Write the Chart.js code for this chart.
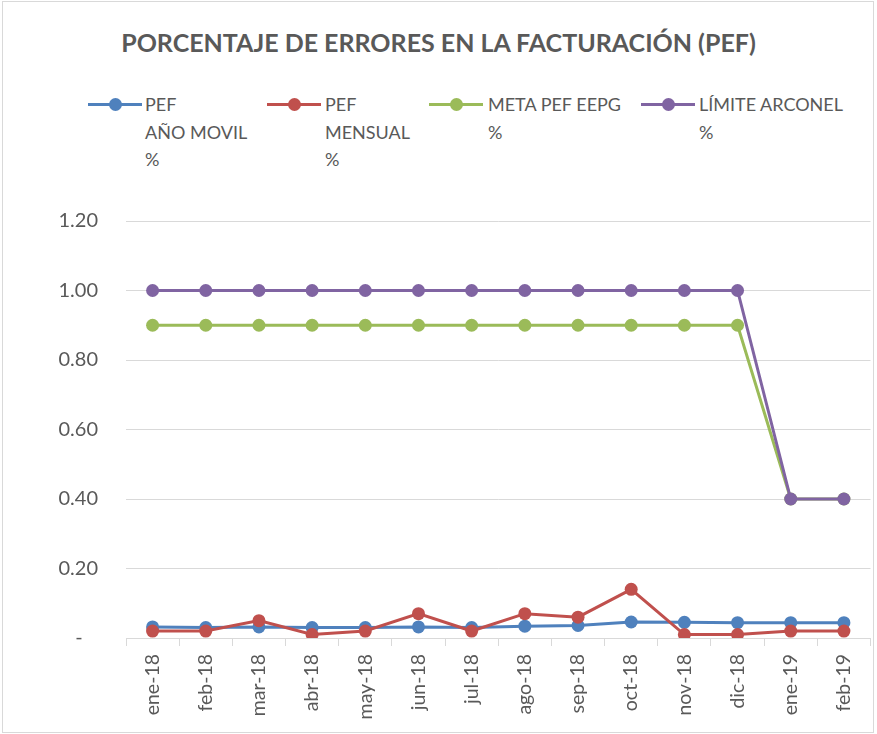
<!DOCTYPE html>
<html>
<head>
<meta charset="utf-8">
<script src="https://cdn.jsdelivr.net/npm/chart.js@4"></script>
<style>
  body { margin: 0; background: #fff; }
  #wrap { position: relative; width: 877px; height: 734px; }
  #frame { position: absolute; left: 2px; top: 1px; width: 870px; height: 730px; border: 1px solid #d9d9d9; }
  #title { position: absolute; left: 0; width: 877px; top: 27px; text-align: center;
           font: bold 25px Lato, sans-serif; color: #595959; }
  .lg { position: absolute; top: 91px; font: 18px Lato, sans-serif; color: #595959; line-height: 27.5px; }
  .lg .mk { position: absolute; left: 0; top: 12px; height: 3px; }
  .lg .dot { position: absolute; top: -5px; width: 13px; height: 13px; border-radius: 50%; }
  .lg .tx { position: absolute; white-space: nowrap; }
  canvas { position: absolute; left: 0; top: 0; }
</style>
</head>
<body>
<div id="wrap">
  <div id="frame"></div>
  <div id="title">PORCENTAJE DE ERRORES EN LA FACTURACIÓN (PEF)</div>
  <div id="legend"></div>
  <canvas id="teh_canvas" width="877" height="734"></canvas>
</div>
<script>
var months = ['ene-18','feb-18','mar-18','abr-18','may-18','jun-18','jul-18','ago-18','sep-18','oct-18','nov-18','dic-18','ene-19','feb-19'];

var pefAnoMovil = [0.032,0.030,0.032,0.030,0.030,0.032,0.030,0.034,0.036,0.046,0.045,0.044,0.044,0.044];
var pefMensual  = [0.020,0.020,0.050,0.010,0.020,0.070,0.020,0.070,0.060,0.140,0.010,0.010,0.020,0.020];
var metaPef     = [0.90,0.90,0.90,0.90,0.90,0.90,0.90,0.90,0.90,0.90,0.90,0.90,0.40,0.40];
var limiteArc   = [1.00,1.00,1.00,1.00,1.00,1.00,1.00,1.00,1.00,1.00,1.00,1.00,0.40,0.40];

var seriesNames = [['PEF','AÑO MOVIL','%'], ['PEF','MENSUAL','%'], ['META PEF EEPG','%'], ['LÍMITE ARCONEL','%']];
var chartColors = ['#4f81bd','#c0504d','#9bbb59','#8064a2'];

// legend positions (line start, line width, text start)
var legendPos = [[88,54,145],[267,54,325],[429,54,488],[641,54,699]];

function buildLegend() {
    var lg = document.getElementById('legend');
    seriesNames.forEach(function(lines, i) {
        var p = legendPos[i];
        var item = document.createElement('div');
        item.className = 'lg';
        item.style.left = p[0] + 'px';
        var mk = document.createElement('div');
        mk.className = 'mk';
        mk.style.width = p[1] + 'px';
        mk.style.background = chartColors[i];
        var dot = document.createElement('div');
        dot.className = 'dot';
        dot.style.left = (p[1] / 2 - 6.5) + 'px';
        dot.style.background = chartColors[i];
        mk.appendChild(dot);
        var tx = document.createElement('div');
        tx.className = 'tx';
        tx.style.left = (p[2] - p[0]) + 'px';
        tx.innerHTML = lines.join('<br>');
        item.appendChild(mk);
        item.appendChild(tx);
        lg.appendChild(item);
    });
}

function mkSet(label, data, idx, order) {
    return {
        label: label, data: data,
        borderColor: chartColors[idx], backgroundColor: chartColors[idx],
        borderWidth: 3, pointRadius: 6.5, pointHoverRadius: 6.5,
        pointBorderWidth: 0, tension: 0, order: order
    };
}

function initChart() {
    var ctx = document.getElementById('teh_canvas');
    new Chart(ctx, {
        type: 'line',
        data: {
            labels: months,
            datasets: [
                mkSet('PEF AÑO MOVIL %', pefAnoMovil, 0, 4),
                mkSet('PEF MENSUAL %', pefMensual, 1, 3),
                mkSet('META PEF EEPG %', metaPef, 2, 2),
                mkSet('LÍMITE ARCONEL %', limiteArc, 3, 1)
            ]
        },
        options: {
            responsive: false,
            animation: false,
            layout: { padding: { top: 221, left: 0, right: 2, bottom: 2 } },
            plugins: { legend: { display: false }, title: { display: false }, tooltip: { enabled: false } },
            scales: {
                x: {
                    offset: true,
                    afterFit: function(s) { s.height = 94; },
                    grid: { offset: true, drawOnChartArea: false, drawTicks: true, tickLength: 8, color: '#d9d9d9', lineWidth: 1 },
                    border: { color: '#d9d9d9' },
                    ticks: { maxRotation: 90, minRotation: 90, padding: 8, color: '#595959', font: { family: 'Lato', size: 19.5 } }
                },
                y: {
                    min: 0, max: 1.2,
                    afterFit: function(s) { s.width = 126; },
                    grid: { drawTicks: false, color: '#d9d9d9', lineWidth: 1 },
                    border: { display: false },
                    ticks: {
                        stepSize: 0.2, padding: 28, color: '#595959',
                        font: { family: 'Lato', size: 20 },
                        callback: function(v) { return v === 0 ? '-   ' : v.toFixed(2); }
                    }
                }
            }
        }
    });
}

buildLegend();
initChart();
</script>
</body>
</html>
